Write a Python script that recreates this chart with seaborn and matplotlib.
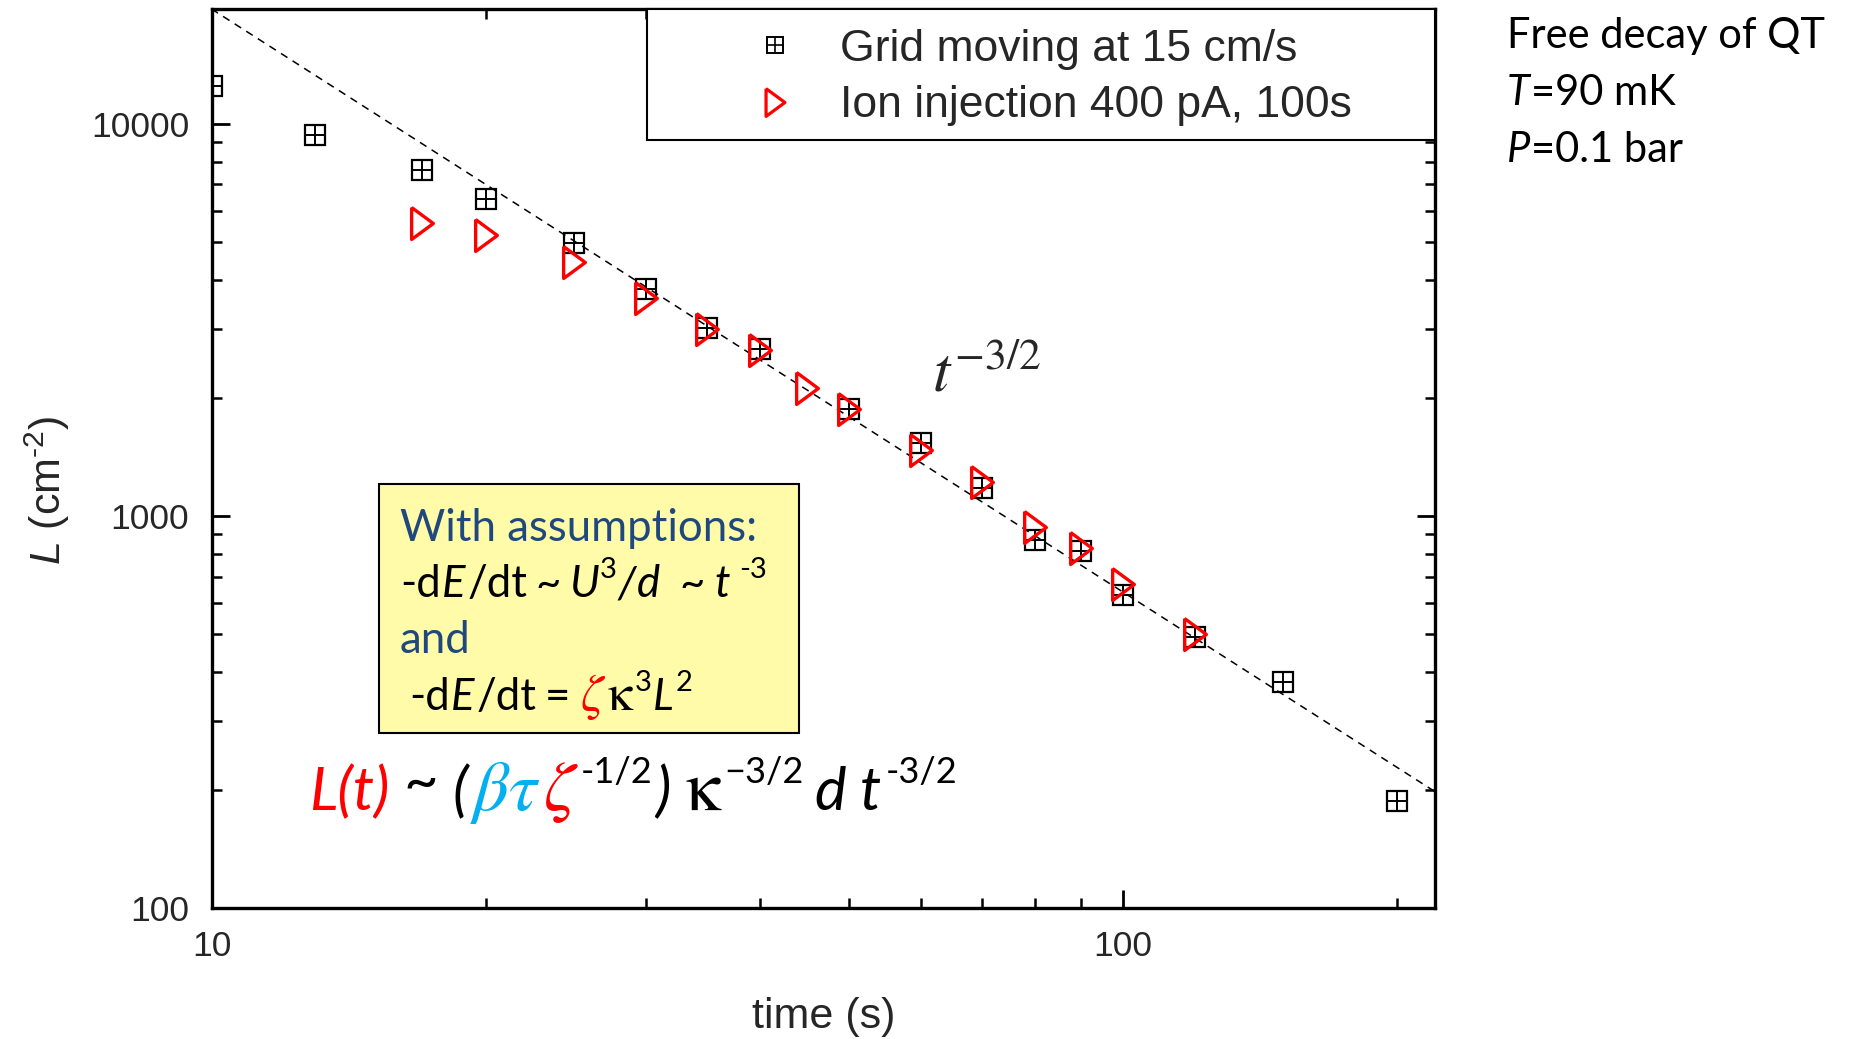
import numpy as np
import pandas as pd
import matplotlib
matplotlib.use("Agg")
import matplotlib.pyplot as plt
import seaborn as sns
from matplotlib.lines import Line2D
from matplotlib.patches import Rectangle
from matplotlib.legend_handler import HandlerTuple
from matplotlib.ticker import LogLocator, FixedLocator, FixedFormatter, NullFormatter

# ---------------- data ----------------
grid_t = [10, 13, 17, 20, 25, 30, 35, 40, 50, 60, 70, 80, 90, 100, 120, 150, 200]
grid_L = [12480, 9330, 7630, 6420, 4970, 3790, 3020, 2665, 1870, 1530, 1177, 867, 815, 627, 492, 378, 187]

ion_t = [17, 20, 25, 30, 35, 40, 45, 50, 60, 70, 80, 90, 100, 120]
ion_L = [5590, 5210, 4450, 3590, 3000, 2650, 2120, 1870, 1470, 1220, 936, 826, 671, 499]

guide_t = [10, 220]          # dashed t^-3/2 guide, end points
guide_L = [19600, 198]

x_ticks = [10, 100]
x_ticklabels = ["10", "100"]
y_ticks = [100, 1000, 10000]
y_ticklabels = ["100", "1000", "10000"]

legend_labels = ["Grid moving at 15 cm/s", "Ion injection 400 pA, 100s"]

# ---------------- style ----------------
sns.set_style("white")
plt.rcParams["font.family"] = ["Liberation Sans", "DejaVu Sans"]
plt.rcParams["mathtext.fontset"] = "custom"
plt.rcParams["mathtext.rm"] = "Liberation Sans"
plt.rcParams["mathtext.it"] = "Liberation Sans:italic"
plt.rcParams["mathtext.bf"] = "Liberation Sans:bold"

W, H = 1850, 1039
fig = plt.figure(figsize=(W / 100, H / 100), dpi=100)
ax = fig.add_axes([211.5 / W, (H - 908) / H, (1435 - 211.5) / W, (908 - 9) / H])
ax.set_xscale("log")
ax.set_yscale("log")

grid_df = pd.DataFrame({"t": grid_t, "L": grid_L})
ion_df = pd.DataFrame({"t": ion_t, "L": ion_L})
guide_df = pd.DataFrame({"t": guide_t, "L": guide_L})

# dashed guide line
sns.lineplot(data=guide_df, x="t", y="L", ax=ax, color="black", lw=1.1,
             linestyle=(0, (5, 4)), estimator=None, sort=False, zorder=2)

# square-with-cross markers: square + plus overlay
sq_ms = 14.5
sns.lineplot(data=grid_df, x="t", y="L", ax=ax, estimator=None, linestyle="",
             marker="s", markersize=sq_ms, markerfacecolor="none",
             markeredgecolor="black", markeredgewidth=1.6, color="black", zorder=3)
sns.lineplot(data=grid_df, x="t", y="L", ax=ax, estimator=None, linestyle="",
             marker="+", markersize=sq_ms, markeredgecolor="black",
             markeredgewidth=1.4, color="black", zorder=3)

# red open triangles pointing right (narrow)
tri = [(-0.68, 1.0), (0.68, 0.0), (-0.68, -1.0), (-0.68, 1.0)]
sns.lineplot(data=ion_df, x="t", y="L", ax=ax, estimator=None, linestyle="",
             marker=tri, markersize=23, markerfacecolor="none",
             markeredgecolor="#ff0000", markeredgewidth=2.4, color="red", zorder=4)

ax.set_xlim(10, 220)
ax.set_ylim(100, 19600)

# ticks
ax.xaxis.set_major_locator(FixedLocator(x_ticks))
ax.xaxis.set_major_formatter(FixedFormatter(x_ticklabels))
ax.yaxis.set_major_locator(FixedLocator(y_ticks))
ax.yaxis.set_major_formatter(FixedFormatter(y_ticklabels))
ax.xaxis.set_minor_locator(LogLocator(base=10, subs=np.arange(2, 10), numticks=20))
ax.yaxis.set_minor_locator(LogLocator(base=10, subs=np.arange(2, 10), numticks=20))
ax.xaxis.set_minor_formatter(NullFormatter())
ax.yaxis.set_minor_formatter(NullFormatter())
ax.tick_params(which="both", direction="in", top=True, right=True,
               bottom=True, left=True, color="black")
ax.tick_params(which="major", length=13, width=2.0, labelsize=25.5, pad=16)
ax.tick_params(which="minor", length=7.5, width=1.8)
for sp in ax.spines.values():
    sp.set_visible(True)
    sp.set_linewidth(2.4)
    sp.set_color("black")

ax.set_xlabel("time (s)", fontsize=31, labelpad=24)
ax.set_ylabel(r"$\mathit{L}$ (cm$^{\text{-2}}$)", fontsize=31)
ax.yaxis.set_label_coords(-0.114, 0.465)

# legend (frame drawn separately to match the wide box)
ax.add_patch(Rectangle((0.356, 0.854), 0.644, 0.146, transform=ax.transAxes,
                       facecolor="white", edgecolor="black", lw=1.5, zorder=5,
                       clip_on=False))
h_sq = (Line2D([], [], ls="", marker="s", ms=12, mfc="none", mec="black", mew=1.4),
        Line2D([], [], ls="", marker="+", ms=12, mec="black", mew=1.2))
h_tri = Line2D([], [], ls="", marker=tri, ms=20, mfc="none", mec="#ff0000", mew=2.3)
leg = ax.legend([h_sq, h_tri], legend_labels, loc="upper left",
                bbox_to_anchor=((753 - 211.5) / (1435 - 211.5), 1.0 - 20 / 899),
                frameon=False, fontsize=32, handlelength=1.0, handletextpad=0.95,
                borderpad=0.0, borderaxespad=0.0, labelspacing=0.34,
                handler_map={tuple: HandlerTuple(ndivide=1, pad=0)})
leg.set_zorder(6)

# ---------------- rich text helper ----------------
fig.canvas.draw()
renderer = fig.canvas.get_renderer()

CAL = ["Lato", "DejaVu Sans"]


def rich(x0, y0, pieces):
    """Place coloured text pieces left-to-right on a shared baseline (pixels)."""
    x = x0
    for p in pieces:
        x += p.get("pre", 0)
        kw = dict(family=CAL, fontsize=28, color="black")
        kw.update(p.get("kw", {}))
        t = fig.text(x / W, (y0 + p.get("rise", 0)) / H, p["s"], ha="left",
                     va="baseline", **kw)
        bb = t.get_window_extent(renderer=renderer)
        x = bb.x1
    return x


# top-right annotation
rich(1507, H - 48, [{"s": "Free decay of QT", "kw": {"fontsize": 30}}])
rich(1507, H - 105, [{"s": "T", "kw": {"fontsize": 30, "style": "italic"}},
                     {"s": "=90 mK", "kw": {"fontsize": 30}, "pre": 1}])
rich(1507, H - 162, [{"s": "P", "kw": {"fontsize": 30, "style": "italic"}},
                     {"s": "=0.1 bar", "kw": {"fontsize": 30}, "pre": 1}])

# t^-3/2 label
fig.text(932 / W, (H - 392) / H, r"$t^{-3/2}$", fontsize=45, math_fontfamily="stix",
         ha="left", va="baseline")

# yellow assumptions box
fig.add_artist(Rectangle((379 / W, (H - 733) / H), (799 - 379) / W, (733 - 484) / H,
                         transform=fig.transFigure, facecolor="#FFFBA8",
                         edgecolor="black", lw=1.5, zorder=1))
blue = "#1F497D"
fs = 31.5
sup = 21
rz = 19
rich(400, H - 541, [{"s": "With assumptions:", "kw": {"fontsize": fs, "color": blue}}])
rich(400, H - 597, [
    {"s": "-d", "kw": {"fontsize": fs}},
    {"s": "E", "kw": {"fontsize": fs, "style": "italic"}, "pre": 1},
    {"s": "/dt", "kw": {"fontsize": fs}, "pre": 2},
    {"s": "~", "kw": {"fontsize": fs}, "pre": 8},
    {"s": "U", "kw": {"fontsize": fs, "style": "italic"}, "pre": 8},
    {"s": "3", "kw": {"fontsize": sup}, "pre": 1, "rise": rz},
    {"s": "/", "kw": {"fontsize": fs, "style": "italic"}, "pre": 1},
    {"s": "d", "kw": {"fontsize": fs, "style": "italic"}, "pre": 1},
    {"s": "~", "kw": {"fontsize": fs}, "pre": 20},
    {"s": "t", "kw": {"fontsize": fs, "style": "italic"}, "pre": 9},
    {"s": "-3", "kw": {"fontsize": sup}, "pre": 9, "rise": rz},
])
rich(400, H - 653, [{"s": "and", "kw": {"fontsize": fs, "color": blue}}])
rich(409, H - 710, [
    {"s": "-d", "kw": {"fontsize": fs}},
    {"s": "E", "kw": {"fontsize": fs, "style": "italic"}, "pre": 1},
    {"s": "/dt", "kw": {"fontsize": fs}, "pre": 2},
    {"s": "=", "kw": {"fontsize": fs}, "pre": 9},
    {"s": r"$\zeta$", "kw": {"fontsize": fs + 5, "color": "#ff0000", "math_fontfamily": "stix"}, "pre": 9},
    {"s": r"$\mathrm{\kappa}$", "kw": {"fontsize": fs + 5, "math_fontfamily": "stix"}, "pre": 1},
    {"s": "3", "kw": {"fontsize": sup}, "pre": 1, "rise": rz},
    {"s": "L", "kw": {"fontsize": fs, "style": "italic"}, "pre": 1},
    {"s": "2", "kw": {"fontsize": sup}, "pre": 2, "rise": rz},
])

# big formula
bf = 43
bs = 26
cyan = "#00B0F0"
rise = 27
rich(309, H - 810, [
    {"s": "L(t)", "kw": {"fontsize": bf, "style": "italic", "color": "#ff0000"}},
    {"s": "~", "kw": {"fontsize": bf}, "pre": 14, "rise": 10},
    {"s": "(", "kw": {"fontsize": bf, "style": "italic"}, "pre": 14},
    {"s": r"$\beta\tau$", "kw": {"fontsize": bf + 8, "color": cyan, "math_fontfamily": "stix"}, "pre": 3},
    {"s": r"$\zeta$", "kw": {"fontsize": bf + 8, "color": "#ff0000", "math_fontfamily": "stix"}, "pre": 2},
    {"s": "-1/2", "kw": {"fontsize": bs}, "pre": 2, "rise": rise},
    {"s": ")", "kw": {"fontsize": bf, "style": "italic"}, "pre": 2},
    {"s": r"$\mathrm{\kappa}$", "kw": {"fontsize": bf + 8, "math_fontfamily": "stix"}, "pre": 15},
    {"s": "\u22123/2", "kw": {"fontsize": bs}, "pre": 1, "rise": rise},
    {"s": "d", "kw": {"fontsize": bf, "style": "italic"}, "pre": 11},
    {"s": "t", "kw": {"fontsize": bf, "style": "italic"}, "pre": 14},
    {"s": "-3/2", "kw": {"fontsize": bs}, "pre": 5, "rise": rise},
])

fig.savefig("out.png", dpi=100)
